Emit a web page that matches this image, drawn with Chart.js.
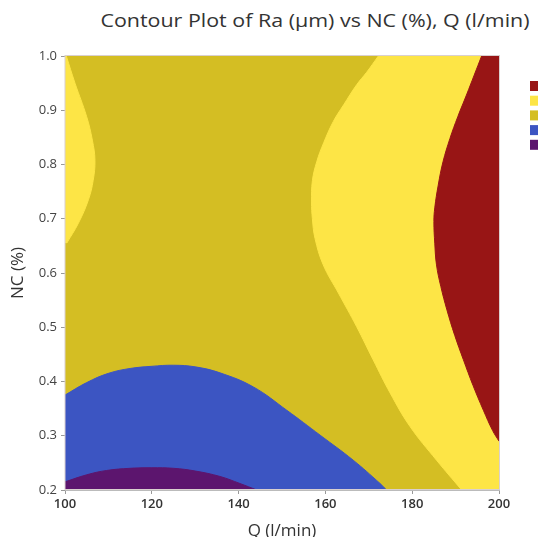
<!DOCTYPE html>
<html>
<head>
<meta charset="utf-8">
<script src="https://cdn.jsdelivr.net/npm/chart.js@4"></script>
<style>
  body { margin: 0; overflow: hidden; background: #fff; }
  #title {
    position: absolute; left: 0; top: 8px; width: 630px;
    text-align: center; font: 18px 'Open Sans', sans-serif; line-height: 24px; color: #333;
    transform: scaleX(1.19); transform-origin: 315px 0;
  }
  #wrap { position: relative; width: 538px; height: 537px; }
</style>
</head>
<body>
<div id="title">Contour Plot of Ra (µm) vs NC (%), Q (l/min)</div>
<div id="wrap"><canvas id="contour"></canvas></div>
<script>
// axis ranges
const qRange = [100, 200];
const ncRange = [0.2, 1.0];

// contour boundaries, (Q, NC) pairs
const leftYellowQ  = [100.4, 103.1, 105.4, 106.5, 106.9, 106.3, 105.0, 102.3, 100.3];
const leftYellowNC = [0.655, 0.692, 0.735, 0.771, 0.808, 0.845, 0.888, 0.95, 1.0];

const rightYellowQ  = [172.2, 169.5, 167.2, 164.2, 161.8, 159.6, 158.0, 157.0, 156.8, 157.0, 157.6, 159.5, 163.0, 167.2, 171.0, 174.9, 179.5, 185.6, 191.4];
const rightYellowNC = [1.0, 0.97, 0.947, 0.91, 0.879, 0.84, 0.805, 0.77, 0.731, 0.70, 0.664, 0.615, 0.563, 0.501, 0.44, 0.379, 0.317, 0.255, 0.2];

const redQ  = [196.0, 194.3, 192.5, 190.5, 188.7, 187.1, 186.0, 185.2, 185.0, 185.2, 185.6, 186.6, 188.0, 189.8, 191.8, 194.0, 196.4, 198.5, 200];
const redNC = [1.0, 0.965, 0.928, 0.888, 0.848, 0.805, 0.762, 0.72, 0.695, 0.655, 0.615, 0.575, 0.532, 0.485, 0.44, 0.393, 0.347, 0.31, 0.29];

const blueQ  = [100, 105, 110, 115, 120, 125, 130, 135.7, 143.4, 151.1, 158.8, 166.4, 172.6, 174.1];
const blueNC = [0.375, 0.398, 0.415, 0.424, 0.428, 0.430, 0.427, 0.416, 0.390, 0.347, 0.301, 0.255, 0.212, 0.2];

const purpleQ  = [100, 105, 109.6, 115, 120, 125, 130, 135.7, 140.3, 144.2];
const purpleNC = [0.215, 0.228, 0.236, 0.240, 0.241, 0.240, 0.235, 0.225, 0.212, 0.2];

const colors = {
  red: '#981515',
  yellow: '#fde546',
  olive: '#d4be23',
  blue: '#3c55c2',
  purple: '#5c156e'
};

const pts = (qs, ncs) => qs.map((q, i) => ({ x: q, y: ncs[i] }));

// bottom layer first
const layers = [
  { color: colors.olive,  data: pts([qRange[1], qRange[1]], ncRange), axis: 'y', to: { value: qRange[0] } },
  { color: colors.yellow, data: pts(leftYellowQ, leftYellowNC),   axis: 'y', to: { value: qRange[0] } },
  { color: colors.yellow, data: pts(rightYellowQ, rightYellowNC), axis: 'y', to: { value: qRange[1] } },
  { color: colors.red,    data: pts(redQ, redNC),                 axis: 'y', to: { value: qRange[1] } },
  { color: colors.blue,   data: pts(blueQ, blueNC),               axis: 'x', to: { value: ncRange[0] } },
  { color: colors.purple, data: pts(purpleQ, purpleNC),           axis: 'x', to: { value: ncRange[0] } }
];

const datasets = layers.map((l, i) => ({
  data: l.data,
  indexAxis: l.axis,
  borderColor: l.color,
  backgroundColor: l.color,
  borderWidth: 1,
  pointRadius: 0,
  tension: 0.4,
  fill: l.to,
  order: layers.length - i
}));

const legendSwatches = {
  id: 'legendSwatches',
  afterDraw(chart) {
    const { ctx, chartArea } = chart;
    const list = [colors.red, colors.yellow, colors.olive, colors.blue, colors.purple];
    ctx.save();
    list.forEach((c, i) => {
      ctx.fillStyle = c;
      ctx.fillRect(chartArea.right + 31, 81 + i * 14.7, 20, 10);
    });
    // frame round the plot
    ctx.strokeStyle = '#d9d0d0';
    ctx.lineWidth = 1;
    ctx.strokeRect(chartArea.left, chartArea.top - 0.5, chartArea.right - chartArea.left + 0.5, chartArea.bottom - chartArea.top);
    ctx.restore();
  }
};

new Chart(document.getElementById('contour'), {
  type: 'line',
  data: { datasets },
  options: {
    responsive: true,
    maintainAspectRatio: false,
    animation: false,
    layout: { padding: { top: 56, right: 39, left: 0, bottom: 0 } },
    plugins: {
      legend: { display: false },
      tooltip: { enabled: false },
      title: { display: false }
    },
    scales: {
      x: {
        type: 'linear',
        min: qRange[0],
        max: qRange[1],
        afterFit: (s) => { s.height = 47; },
        grid: { drawOnChartArea: false, tickLength: 4, color: '#999' },
        border: { color: '#bbb' },
        ticks: { stepSize: 20, padding: 2, color: '#333', font: { family: 'Open Sans', size: 13, weight: '600' } },
        title: { display: true, text: 'Q (l/min)', color: '#333', padding: { top: 0, bottom: -4 }, font: { family: 'Open Sans', size: 17 } }
      },
      y: {
        type: 'linear',
        min: ncRange[0],
        max: ncRange[1],
        afterFit: (s) => { s.width = 65; },
        grid: { drawOnChartArea: false, tickLength: 4, color: '#999' },
        border: { color: '#bbb' },
        ticks: { stepSize: 0.1, padding: 4, color: '#444', font: { family: 'Open Sans', size: 13 }, callback: (v) => v.toFixed(1) },
        title: { display: true, text: 'NC (%)', color: '#333', padding: { top: 8, bottom: 0 }, font: { family: 'Open Sans', size: 17 } }
      }
    }
  },
  plugins: [legendSwatches]
});
</script>
</body>
</html>
